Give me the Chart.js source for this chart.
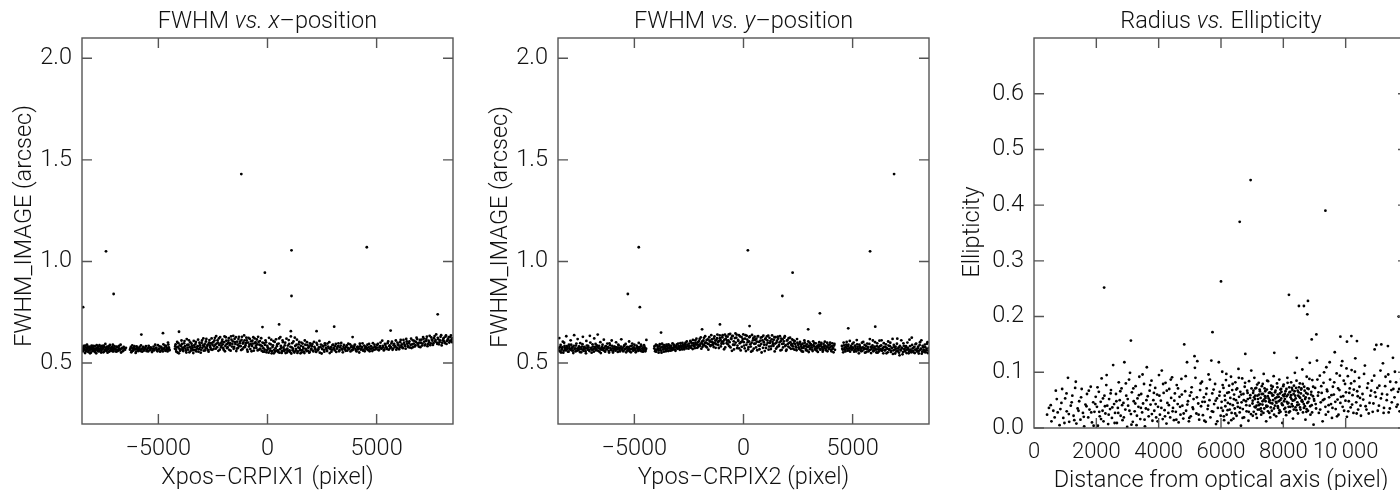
<!DOCTYPE html>
<html lang="en">
<head>
<meta charset="UTF-8">
<title>FWHM and ellipticity</title>
<style>
  html, body { margin: 0; padding: 0; background: #fff; overflow: hidden; width: 1400px; height: 490px; }
  canvas { position: absolute; top: 0; }
</style>
</head>
<body>
<canvas id="c1" width="470" height="490" style="left:0px"></canvas>
<canvas id="c2" width="470" height="490" style="left:470px"></canvas>
<canvas id="c3" width="480" height="490" style="left:940px"></canvas>
<script src="https://cdn.jsdelivr.net/npm/chart.js"></script>
<script>
// FWHM vs x-position: [x, fwhm]
const xposBand = [
  [-8480,0.571],[-8450,0.558],[-8420,0.584],[-8390,0.566],[-8360,0.549],[-8330,0.577],[-8300,0.562],[-8270,0.590],[-8240,0.570],[-8210,0.555],
  [-8180,0.581],[-8150,0.564],[-8120,0.573],[-8090,0.552],[-8060,0.586],[-8030,0.568],[-8000,0.576],[-7970,0.559],[-7940,0.571],[-7910,0.583],
  [-7880,0.563],[-7850,0.548],[-7820,0.574],[-7790,0.566],[-7760,0.579],[-7730,0.557],[-7700,0.588],[-7670,0.569],[-7640,0.575],[-7610,0.561],
  [-7580,0.584],[-7550,0.570],[-7520,0.553],[-7490,0.578],[-7460,0.565],[-7430,0.594],[-7400,0.572],[-7370,0.560],[-7340,0.581],[-7310,0.567],
  [-7280,0.575],[-7250,0.556],[-7220,0.589],[-7190,0.570],[-7160,0.563],[-7130,0.579],[-7100,0.558],[-7070,0.573],[-7040,0.566],[-7010,0.583],
  [-6970,0.571],[-6930,0.556],[-6890,0.578],[-6850,0.563],[-6800,0.585],[-6760,0.569],[-6710,0.552],[-6660,0.575],[-6610,0.561],[-6560,0.570],
  [-6300,0.566],[-6260,0.579],[-6220,0.558],[-6180,0.572],[-6140,0.564],[-6100,0.583],[-6060,0.568],[-6020,0.556],[-5980,0.575],[-5940,0.562],
  [-5900,0.571],[-5860,0.580],[-5820,0.559],[-5770,0.568],[-5720,0.574],[-5670,0.561],[-5620,0.570],[-5570,0.583],[-5520,0.565],[-5470,0.557],
  [-5420,0.576],[-5370,0.567],[-5320,0.572],[-5270,0.560],[-5220,0.581],[-5170,0.569],[-5120,0.574],[-5070,0.563],[-5020,0.588],[-4970,0.571],
  [-4920,0.556],[-4870,0.579],[-4820,0.566],[-4770,0.592],[-4720,0.574],[-4680,0.560],[-4640,0.584],[-4600,0.569],[-4560,0.601],[-4520,0.577],[-4490,0.563],
  [-4240,0.571],[-4210,0.592],[-4180,0.556],[-4140,0.604],[-4100,0.579],[-4060,0.548],[-4020,0.587],[-3980,0.566],[-3940,0.611],[-3900,0.574],
  [-3860,0.559],[-3820,0.597],[-3780,0.583],[-3740,0.562],[-3700,0.618],[-3660,0.576],[-3620,0.590],[-3580,0.553],[-3540,0.602],[-3500,0.571],
  [-3460,0.585],[-3420,0.563],[-3380,0.609],[-3340,0.578],[-3300,0.594],[-3260,0.557],[-3220,0.580],[-3180,0.615],[-3140,0.569],[-3100,0.588],
  [-3060,0.551],[-3020,0.599],[-2980,0.575],[-2940,0.621],[-2900,0.583],[-2860,0.562],[-2820,0.606],[-2780,0.572],[-2740,0.591],[-2700,0.556],
  [-2660,0.613],[-2620,0.578],[-2580,0.598],[-2540,0.565],
  [-2490,0.603],[-2450,0.582],[-2410,0.624],[-2370,0.571],[-2330,0.596],[-2290,0.612],[-2250,0.560],[-2210,0.589],[-2170,0.628],[-2130,0.577],
  [-2090,0.605],[-2050,0.592],[-2010,0.566],[-1970,0.631],[-1930,0.584],[-1890,0.610],[-1850,0.573],[-1810,0.598],[-1770,0.622],[-1730,0.588],
  [-1690,0.561],[-1650,0.615],[-1610,0.594],[-1570,0.634],[-1530,0.579],[-1490,0.603],[-1450,0.627],[-1410,0.571],[-1370,0.590],[-1330,0.618],
  [-1290,0.583],[-1250,0.606],[-1210,0.564],[-1170,0.629],[-1130,0.596],[-1090,0.577],[-1050,0.612],[-1010,0.588],[-970,0.625],[-930,0.566],
  [-890,0.601],[-850,0.581],[-810,0.619],[-770,0.593],[-730,0.558],[-690,0.610],[-650,0.627],[-610,0.575],[-570,0.597],[-530,0.585],
  [-490,0.616],[-450,0.562],[-410,0.604],[-370,0.590],[-330,0.571],[-290,0.622],[-250,0.583],[-210,0.556],
  [-170,0.598],[-130,0.566],[-90,0.612],[-50,0.553],[-10,0.585],[30,0.571],[70,0.624],[110,0.560],[150,0.592],[190,0.548],
  [230,0.579],[270,0.608],[310,0.565],[350,0.556],[390,0.617],[430,0.583],[470,0.562],[510,0.596],[550,0.551],[590,0.628],
  [630,0.574],[670,0.558],[710,0.603],[750,0.567],[790,0.587],[830,0.549],[870,0.620],[910,0.571],[950,0.560],[990,0.594],
  [1030,0.555],[1070,0.631],[1110,0.577],[1150,0.563],[1190,0.606],[1230,0.552],[1270,0.584],[1310,0.569],[1350,0.615],[1390,0.557],
  [1430,0.592],[1470,0.573],[1510,0.548],[1550,0.601],[1590,0.564],[1630,0.580],[1670,0.556],[1710,0.611],[1750,0.570],[1790,0.559],
  [1830,0.588],[1870,0.575],[1910,0.551],[1950,0.597],[1990,0.566],
  [2030,0.583],[2080,0.561],[2130,0.604],[2180,0.572],[2230,0.555],[2280,0.590],[2330,0.568],[2380,0.609],[2430,0.578],[2480,0.547],
  [2530,0.586],[2580,0.565],[2630,0.597],[2680,0.574],[2730,0.559],[2780,0.581],[2830,0.603],[2880,0.569],[2930,0.556],[2980,0.588],
  [3030,0.575],[3080,0.562],[3130,0.594],[3180,0.571],[3230,0.583],[3280,0.558],[3330,0.577],[3380,0.599],[3430,0.566],[3480,0.580],
  [3530,0.572],[3580,0.560],[3630,0.587],[3680,0.574],[3730,0.568],[3780,0.592],[3830,0.579],[3880,0.563],[3930,0.576],[3980,0.584],
  [4030,0.569],[4080,0.557],[4130,0.581],[4180,0.573],[4230,0.595],[4280,0.566],[4330,0.578],[4380,0.561],[4430,0.586],[4480,0.574],
  [4530,0.569],[4580,0.590],[4630,0.577],[4680,0.558],[4730,0.583],[4780,0.571],[4830,0.598],[4880,0.565],[4930,0.580],[4980,0.574],
  [5030,0.589],[5080,0.566],[5130,0.577],[5180,0.601],[5230,0.571],[5280,0.585],[5330,0.562],[5380,0.594],[5430,0.578],[5480,0.569],
  [5530,0.606],[5580,0.583],[5630,0.573],[5680,0.597],[5730,0.565],[5780,0.588],[5830,0.579],[5880,0.611],[5930,0.574],[5980,0.592],
  [6030,0.568],[6080,0.603],[6130,0.585],[6180,0.577],[6230,0.614],[6280,0.590],[6330,0.571],[6380,0.606],[6430,0.583],[6480,0.598],
  [6530,0.576],[6580,0.620],[6630,0.592],[6680,0.579],[6730,0.609],[6780,0.588],[6830,0.625],[6880,0.597],[6930,0.581],[6980,0.614],
  [7030,0.600],[7080,0.586],[7130,0.628],[7180,0.605],[7230,0.592],[7280,0.618],[7330,0.583],[7380,0.610],[7430,0.634],[7480,0.597],
  [7530,0.615],[7580,0.589],[7630,0.622],[7680,0.606],[7730,0.641],[7780,0.594],[7830,0.617],[7880,0.603],[7930,0.629],[7980,0.587],
  [8030,0.612],[8080,0.624],[8130,0.598],[8180,0.636],[8230,0.609],[8280,0.619],[8330,0.601],[8380,0.628],[8430,0.614],[8480,0.622]
];
const xposBand2 = [
  [-8467,0.562],[-8431,0.579],[-8398,0.570],[-8352,0.586],[-8318,0.557],[-8287,0.568],[-8243,0.580],[-8199,0.561],[-8163,0.575],[-8131,0.548],
  [-8102,0.567],[-8071,0.579],[-8017,0.560],[-7984,0.584],[-7951,0.566],[-7903,0.555],[-7869,0.571],[-7827,0.588],[-7781,0.559],[-7748,0.570],
  [-7712,0.563],[-7659,0.581],[-7623,0.552],[-7591,0.567],[-7537,0.575],[-7503,0.586],[-7471,0.558],[-7418,0.566],[-7382,0.578],[-7329,0.551],
  [-7296,0.569],[-7262,0.583],[-7207,0.561],[-7173,0.574],[-7118,0.568],[-7087,0.590],[-7053,0.557],[-7022,0.572],
  [-6954,0.566],[-6911,0.581],[-6868,0.559],[-6822,0.574],[-6779,0.563],[-6731,0.590],[-6689,0.571],[-6637,0.558],[-6589,0.579],[-6527,0.566],
  [-6488,0.575],[-6281,0.572],[-6241,0.553],[-6197,0.587],[-6163,0.561],[-6119,0.576],[-6078,0.570],[-6041,0.550],[-5997,0.582],[-5959,0.568],
  [-5917,0.559],[-5878,0.573],[-5838,0.565],[-5797,0.587],[-5741,0.556],[-5693,0.579],[-5648,0.566],[-5597,0.575],[-5548,0.559],[-5491,0.572],
  [-5446,0.585],[-5393,0.563],[-5348,0.577],[-5292,0.554],[-5243,0.570],[-5197,0.562],[-5146,0.590],[-5091,0.575],[-5043,0.558],[-4993,0.567],
  [-4944,0.582],[-4896,0.561],[-4848,0.573],[-4797,0.557],[-4746,0.570],[-4703,0.586],[-4659,0.563],[-4618,0.575],[-4579,0.557],[-4541,0.591],[-4507,0.568],
  [-4227,0.583],[-4193,0.566],[-4158,0.577],[-4121,0.552],[-4083,0.598],[-4041,0.571],[-4003,0.560],[-3961,0.584],[-3921,0.594],[-3879,0.565],
  [-3841,0.576],[-3803,0.608],[-3761,0.571],[-3719,0.552],[-3681,0.589],[-3641,0.566],[-3601,0.612],[-3561,0.579],[-3519,0.560],[-3481,0.595],
  [-3441,0.574],[-3401,0.549],[-3361,0.587],[-3319,0.563],[-3281,0.604],[-3239,0.570],[-3201,0.583],[-3161,0.556],[-3119,0.600],[-3079,0.577],
  [-3041,0.565],[-2999,0.611],[-2959,0.587],[-2921,0.561],[-2879,0.594],[-2839,0.574],[-2801,0.619],[-2759,0.584],[-2719,0.563],[-2679,0.600],
  [-2641,0.587],[-2601,0.568],[-2561,0.621],[-2521,0.590],
  [-2473,0.569],[-2431,0.611],[-2389,0.590],[-2351,0.633],[-2309,0.578],[-2271,0.600],[-2229,0.621],[-2189,0.566],[-2151,0.597],[-2109,0.585],
  [-2071,0.615],[-2029,0.574],[-1989,0.603],[-1951,0.558],[-1909,0.627],[-1871,0.593],[-1829,0.578],[-1789,0.610],[-1751,0.565],[-1709,0.598],
  [-1671,0.631],[-1629,0.581],[-1589,0.607],[-1551,0.570],[-1509,0.619],[-1471,0.594],[-1429,0.559],[-1389,0.605],[-1351,0.574],[-1309,0.629],
  [-1271,0.597],[-1229,0.583],[-1189,0.614],[-1151,0.568],[-1109,0.602],[-1071,0.636],[-1029,0.579],[-989,0.598],[-951,0.611],[-909,0.556],
  [-871,0.624],[-829,0.590],[-789,0.569],[-751,0.607],[-709,0.584],[-669,0.596],[-629,0.561],[-589,0.621],[-549,0.603],[-509,0.574],
  [-469,0.592],[-429,0.629],[-389,0.566],[-349,0.608],[-309,0.587],[-269,0.561],[-229,0.601],
  [-187,0.573],[-149,0.556],[-111,0.589],[-69,0.602],[-31,0.562],[9,0.577],[51,0.551],[91,0.596],[131,0.571],[171,0.615],
  [211,0.558],[251,0.587],[291,0.548],[331,0.604],[371,0.573],[411,0.561],[451,0.593],[491,0.554],[531,0.621],[571,0.568],
  [611,0.584],[651,0.550],[691,0.611],[731,0.577],[771,0.559],[811,0.600],[851,0.566],[891,0.552],[931,0.586],[971,0.613],
  [1011,0.562],[1051,0.580],[1091,0.547],[1131,0.598],[1171,0.571],[1211,0.556],[1251,0.625],[1291,0.561],[1331,0.590],[1371,0.550],
  [1411,0.577],[1451,0.604],[1491,0.563],[1531,0.585],[1571,0.553],[1611,0.596],[1651,0.572],[1691,0.549],[1731,0.590],[1771,0.566],
  [1811,0.603],[1851,0.560],[1891,0.579],[1931,0.555],[1971,0.588],
  [2011,0.571],[2057,0.594],[2103,0.557],[2149,0.580],[2201,0.566],[2247,0.599],[2303,0.562],[2351,0.577],[2397,0.551],[2449,0.591],
  [2503,0.569],[2551,0.581],[2603,0.556],[2651,0.588],[2703,0.566],[2751,0.596],[2803,0.573],[2851,0.549],[2903,0.578],[2953,0.566],
  [3003,0.591],[3051,0.570],[3103,0.583],[3151,0.555],[3203,0.575],[3251,0.597],[3303,0.564],[3351,0.586],[3403,0.570],[3451,0.553],
  [3503,0.589],[3553,0.567],[3603,0.579],[3653,0.561],[3703,0.595],[3751,0.571],[3803,0.557],[3853,0.584],[3903,0.566],[3953,0.575],
  [4003,0.591],[4053,0.562],[4103,0.577],[4153,0.568],[4203,0.552],[4253,0.583],[4303,0.571],[4353,0.597],[4403,0.566],[4453,0.558],
  [4503,0.581],[4553,0.573],[4603,0.564],[4653,0.594],[4703,0.570],[4753,0.582],[4803,0.559],[4853,0.576],[4903,0.590],[4953,0.567],
  [5011,0.576],[5057,0.594],[5103,0.563],[5157,0.583],[5203,0.572],[5257,0.610],[5303,0.578],[5357,0.567],[5403,0.589],[5457,0.575],
  [5503,0.598],[5557,0.566],[5603,0.587],[5657,0.578],[5703,0.605],[5757,0.571],[5803,0.594],[5857,0.583],[5903,0.566],[5957,0.601],
  [6003,0.587],[6057,0.577],[6103,0.614],[6157,0.592],[6203,0.573],[6257,0.600],[6303,0.584],[6357,0.619],[6403,0.595],[6457,0.578],
  [6503,0.606],[6557,0.589],[6603,0.574],[6657,0.612],[6703,0.596],[6757,0.582],[6803,0.604],[6857,0.618],[6903,0.590],[6957,0.601],
  [7003,0.578],[7057,0.615],[7103,0.596],[7157,0.620],[7203,0.587],[7257,0.608],[7303,0.630],[7357,0.594],[7403,0.604],[7457,0.588],
  [7503,0.626],[7557,0.610],[7603,0.598],[7657,0.633],[7703,0.613],[7757,0.601],[7803,0.624],[7857,0.592],[7903,0.611],[7957,0.637],
  [8003,0.600],[8057,0.619],[8103,0.606],[8157,0.630],[8203,0.594],[8257,0.615],[8303,0.628],[8357,0.609],[8403,0.636],[8457,0.603],[8493,0.618]
];
const xposOutliers = [
  [-1200,1.43],[-7400,1.05],[-7050,0.84],[-8450,0.775],[-120,0.945],[1100,1.055],[1100,0.83],[4550,1.07],[7800,0.74],
  [-5780,0.64],[-4790,0.647],[-4055,0.654],[-230,0.677],[532,0.69],[1070,0.657],[2248,0.657],[3055,0.679],[3900,0.628],[5642,0.66]
];

// FWHM vs y-position: [y, fwhm]
const yposBand = [
  [-8480,0.566],[-8440,0.623],[-8400,0.579],[-8360,0.552],[-8320,0.571],[-8280,0.605],[-8240,0.561],[-8200,0.584],[-8160,0.568],[-8120,0.632],
  [-8080,0.575],[-8040,0.556],[-8000,0.590],[-7960,0.570],[-7920,0.612],[-7880,0.563],[-7840,0.578],[-7800,0.549],[-7760,0.637],[-7720,0.572],
  [-7680,0.586],[-7640,0.560],[-7600,0.618],[-7560,0.575],[-7520,0.567],[-7480,0.598],[-7440,0.553],[-7400,0.581],[-7360,0.629],[-7320,0.569],
  [-7280,0.577],[-7240,0.558],[-7200,0.609],[-7160,0.573],[-7120,0.585],[-7080,0.564],[-7040,0.634],[-7000,0.571],[-6960,0.551],[-6920,0.592],
  [-6880,0.568],[-6840,0.621],[-6800,0.579],[-6760,0.562],[-6720,0.587],[-6680,0.640],[-6640,0.574],[-6600,0.556],[-6560,0.603],[-6520,0.566],
  [-6480,0.580],[-6440,0.571],[-6400,0.615],[-6360,0.559],[-6320,0.583],[-6280,0.568],[-6240,0.596],[-6200,0.575],[-6160,0.552],[-6120,0.588],
  [-6080,0.566],[-6040,0.611],[-6000,0.572],[-5960,0.560],[-5920,0.581],[-5880,0.569],[-5840,0.602],[-5800,0.576],[-5760,0.555],[-5720,0.586],
  [-5680,0.564],[-5640,0.573],[-5600,0.617],[-5560,0.570],[-5520,0.558],[-5480,0.582],[-5440,0.567],[-5400,0.594],[-5360,0.574],[-5320,0.561],
  [-5280,0.578],[-5240,0.606],[-5200,0.569],[-5160,0.553],[-5120,0.585],[-5080,0.572],[-5040,0.563],[-5000,0.590],[-4960,0.571],[-4920,0.557],
  [-4880,0.580],[-4840,0.568],[-4800,0.599],[-4760,0.575],[-4720,0.560],[-4680,0.583],[-4640,0.570],[-4600,0.556],[-4560,0.588],[-4520,0.573],
  [-4480,0.565],[-4450,0.614],
  [-4090,0.572],[-4050,0.558],[-4010,0.590],[-3970,0.566],[-3930,0.579],[-3890,0.551],[-3850,0.584],[-3810,0.570],[-3770,0.561],[-3730,0.595],
  [-3690,0.576],[-3650,0.556],[-3610,0.582],[-3570,0.568],[-3530,0.590],[-3490,0.573],[-3450,0.559],[-3410,0.586],[-3370,0.571],[-3330,0.580],
  [-3290,0.563],[-3250,0.597],[-3210,0.575],[-3170,0.584],[-3130,0.566],[-3090,0.578],[-3050,0.592],[-3010,0.570],[-2970,0.583],[-2930,0.574],
  [-2890,0.598],[-2850,0.580],[-2810,0.567],[-2770,0.589],[-2730,0.577],[-2690,0.585],[-2650,0.601],[-2610,0.572],[-2570,0.590],[-2530,0.581],
  [-2490,0.596],[-2450,0.578],[-2410,0.604],[-2370,0.586],[-2330,0.569],[-2290,0.598],[-2250,0.583],[-2210,0.612],[-2170,0.591],[-2130,0.575],
  [-2090,0.603],[-2050,0.588],[-2010,0.619],[-1970,0.595],[-1930,0.571],[-1890,0.607],[-1850,0.590],[-1810,0.624],[-1770,0.600],[-1730,0.582],
  [-1690,0.613],[-1650,0.596],[-1610,0.566],[-1570,0.627],[-1530,0.605],[-1490,0.588],[-1450,0.617],[-1410,0.600],[-1370,0.579],[-1330,0.631],
  [-1290,0.610],[-1250,0.592],[-1210,0.622],[-1170,0.603],[-1130,0.574],[-1090,0.636],[-1050,0.614],[-1010,0.595],[-970,0.627],[-930,0.606],
  [-890,0.568],[-850,0.640],[-810,0.619],[-770,0.598],[-730,0.630],[-690,0.611],[-650,0.583],[-610,0.643],[-570,0.621],[-530,0.560],
  [-490,0.634],[-450,0.607],[-410,0.590],[-370,0.646],[-330,0.625],[-290,0.573],[-250,0.614],[-210,0.637],[-170,0.597],[-130,0.562],
  [-90,0.628],[-50,0.608],
  [-10,0.641],[30,0.586],[70,0.620],[110,0.559],[150,0.634],[190,0.603],[230,0.578],[270,0.627],[310,0.592],[350,0.556],
  [390,0.638],[430,0.612],[470,0.571],[510,0.630],[550,0.596],[590,0.620],[630,0.563],[670,0.633],[710,0.604],[750,0.585],
  [790,0.625],[830,0.552],[870,0.612],[910,0.635],[950,0.590],[990,0.617],[1030,0.574],[1070,0.631],[1110,0.600],[1150,0.566],
  [1190,0.624],[1230,0.608],[1270,0.582],[1310,0.636],[1350,0.593],[1390,0.615],[1430,0.557],[1470,0.627],[1510,0.601],[1550,0.579],
  [1590,0.620],[1630,0.589],[1670,0.632],[1710,0.608],[1750,0.565],[1790,0.617],[1830,0.596],[1870,0.625],[1910,0.584],[1950,0.560],
  [1990,0.611],[2030,0.594],[2070,0.622],[2110,0.576],[2150,0.603],[2190,0.589],[2230,0.616],[2270,0.571],[2310,0.597],[2350,0.608],
  [2390,0.582],[2430,0.563],[2470,0.600],
  [2510,0.589],[2550,0.570],[2590,0.604],[2630,0.581],[2670,0.558],[2710,0.595],[2750,0.575],[2790,0.611],[2830,0.586],[2870,0.563],
  [2910,0.592],[2950,0.579],[2990,0.554],[3030,0.600],[3070,0.576],[3110,0.588],[3150,0.566],[3190,0.607],[3230,0.582],[3270,0.571],
  [3310,0.597],[3350,0.561],[3390,0.585],[3430,0.577],[3470,0.603],[3510,0.568],[3550,0.590],[3590,0.579],[3630,0.556],[3670,0.594],
  [3710,0.573],[3750,0.586],[3790,0.562],[3830,0.600],[3870,0.577],[3910,0.569],[3950,0.591],[3990,0.580],[4030,0.558],[4070,0.597],
  [4110,0.574],[4150,0.586],[4190,0.565],
  [4510,0.584],[4550,0.566],[4590,0.601],[4630,0.575],[4670,0.557],[4710,0.590],[4750,0.571],[4790,0.582],[4830,0.562],[4870,0.609],
  [4910,0.577],[4950,0.568],[4990,0.594],[5030,0.573],[5070,0.556],[5110,0.586],[5150,0.570],[5190,0.613],[5230,0.579],[5270,0.563],
  [5310,0.591],[5350,0.574],[5390,0.558],[5430,0.600],[5470,0.577],[5510,0.567],[5550,0.589],[5590,0.571],[5630,0.554],[5670,0.596],
  [5710,0.575],[5750,0.562],[5790,0.618],[5830,0.580],[5870,0.569],[5910,0.587],[5950,0.558],[5990,0.574],[6030,0.603],[6070,0.566],
  [6110,0.583],[6150,0.551],[6190,0.577],[6230,0.610],[6270,0.568],[6310,0.587],[6350,0.560],[6390,0.574],[6430,0.598],[6470,0.563],
  [6510,0.579],[6550,0.548],[6590,0.571],[6630,0.606],[6670,0.566],[6710,0.583],[6750,0.555],[6790,0.574],[6830,0.619],[6870,0.562],
  [6910,0.579],[6950,0.547],[6990,0.571],[7030,0.595],[7070,0.559],[7110,0.577],[7150,0.538],[7190,0.566],[7230,0.612],[7270,0.572],
  [7310,0.554],[7350,0.585],[7390,0.562],[7430,0.576],[7470,0.549],[7510,0.601],[7550,0.568],[7590,0.557],[7630,0.583],[7670,0.561],
  [7710,0.625],[7750,0.572],[7790,0.553],[7830,0.580],[7870,0.565],[7910,0.596],[7950,0.558],[7990,0.574],[8030,0.547],[8070,0.589],
  [8110,0.566],[8150,0.612],[8190,0.556],[8230,0.578],[8270,0.562],[8310,0.591],[8350,0.553],[8390,0.570],[8430,0.603],[8470,0.561]
];
const yposBand2 = [
  [-8467,0.574],[-8421,0.558],[-8379,0.589],[-8337,0.566],[-8297,0.578],[-8257,0.551],[-8219,0.600],[-8177,0.573],[-8137,0.562],[-8097,0.583],
  [-8057,0.570],[-8019,0.556],[-7979,0.579],[-7939,0.566],[-7897,0.590],[-7857,0.574],[-7817,0.561],[-7779,0.585],[-7739,0.569],[-7697,0.557],
  [-7657,0.596],[-7619,0.571],[-7579,0.563],[-7539,0.582],[-7497,0.554],[-7459,0.576],[-7419,0.568],[-7379,0.593],[-7339,0.560],[-7299,0.579],
  [-7259,0.571],[-7219,0.548],[-7179,0.586],[-7139,0.566],[-7099,0.577],[-7059,0.559],[-7019,0.601],[-6979,0.575],[-6939,0.565],[-6899,0.581],
  [-6859,0.556],[-6819,0.572],[-6779,0.594],[-6739,0.568],[-6699,0.579],[-6659,0.560],[-6619,0.585],[-6579,0.571],[-6539,0.549],[-6499,0.576],
  [-6459,0.590],[-6419,0.563],[-6379,0.574],[-6339,0.556],[-6299,0.582],[-6259,0.569],[-6219,0.578],[-6179,0.560],[-6139,0.597],[-6099,0.574],
  [-6059,0.563],[-6019,0.585],[-5979,0.552],[-5939,0.571],[-5899,0.580],[-5859,0.561],[-5819,0.577],[-5779,0.568],[-5739,0.591],[-5699,0.573],
  [-5659,0.557],[-5619,0.581],[-5579,0.566],[-5539,0.575],[-5499,0.560],[-5459,0.588],[-5419,0.570],[-5379,0.553],[-5339,0.579],[-5299,0.566],
  [-5259,0.574],[-5219,0.558],[-5179,0.583],[-5139,0.569],[-5099,0.596],[-5059,0.561],[-5019,0.577],[-4979,0.565],[-4939,0.553],[-4899,0.586],
  [-4859,0.572],[-4819,0.560],[-4779,0.578],[-4739,0.566],[-4699,0.590],[-4659,0.557],[-4619,0.574],[-4579,0.565],[-4539,0.580],[-4499,0.558],[-4463,0.571],
  [-4077,0.583],[-4037,0.565],[-3997,0.556],[-3957,0.587],[-3917,0.570],[-3877,0.562],[-3837,0.593],[-3797,0.576],[-3757,0.551],[-3717,0.581],
  [-3677,0.567],[-3637,0.588],[-3597,0.574],[-3557,0.558],[-3517,0.583],[-3477,0.569],[-3437,0.592],[-3397,0.577],[-3357,0.561],[-3317,0.586],
  [-3277,0.574],[-3237,0.566],[-3197,0.590],[-3157,0.577],[-3117,0.560],[-3077,0.585],[-3037,0.572],[-2997,0.596],[-2957,0.580],[-2917,0.565],
  [-2877,0.587],[-2837,0.575],[-2797,0.599],[-2757,0.583],[-2717,0.568],[-2677,0.594],[-2637,0.579],[-2597,0.606],[-2557,0.586],[-2517,0.571],
  [-2477,0.585],[-2437,0.609],[-2397,0.575],[-2357,0.597],[-2317,0.614],[-2277,0.588],[-2237,0.573],[-2197,0.600],[-2157,0.620],[-2117,0.592],
  [-2077,0.579],[-2037,0.608],[-1997,0.585],[-1957,0.626],[-1917,0.598],[-1877,0.580],[-1837,0.611],[-1797,0.588],[-1757,0.632],[-1717,0.601],
  [-1677,0.577],[-1637,0.617],[-1597,0.593],[-1557,0.610],[-1517,0.584],[-1477,0.637],[-1437,0.604],[-1397,0.590],[-1357,0.621],[-1317,0.598],
  [-1277,0.575],[-1237,0.613],[-1197,0.640],[-1157,0.589],[-1117,0.609],[-1077,0.622],[-1037,0.582],[-997,0.604],[-957,0.637],[-917,0.596],
  [-877,0.615],[-837,0.577],[-797,0.631],[-757,0.610],[-717,0.592],[-677,0.641],[-637,0.603],[-597,0.577],[-557,0.618],[-517,0.632],
  [-477,0.590],[-437,0.567],[-397,0.623],[-357,0.601],[-317,0.640],[-277,0.586],[-237,0.609],[-197,0.572],[-157,0.631],[-117,0.603],
  [-77,0.580],[-37,0.619],
  [13,0.603],[53,0.572],[93,0.637],[133,0.590],[173,0.615],[213,0.567],[253,0.606],[293,0.631],[333,0.581],[373,0.600],
  [413,0.561],[453,0.622],[493,0.595],[533,0.613],[573,0.577],[613,0.605],[653,0.631],[693,0.586],[733,0.568],[773,0.610],
  [813,0.594],[853,0.628],[893,0.575],[933,0.603],[973,0.559],[1013,0.621],[1053,0.590],[1093,0.612],[1133,0.635],[1173,0.581],
  [1213,0.599],[1253,0.569],[1293,0.617],[1333,0.604],[1373,0.585],[1413,0.628],[1453,0.596],[1493,0.571],[1533,0.610],[1573,0.630],
  [1613,0.583],[1653,0.602],[1693,0.562],[1733,0.620],[1773,0.594],[1813,0.577],[1853,0.607],[1893,0.632],[1933,0.588],[1973,0.566],
  [2013,0.613],[2053,0.581],[2093,0.599],[2133,0.625],[2173,0.570],[2213,0.593],[2253,0.583],[2293,0.611],[2333,0.566],[2373,0.594],
  [2413,0.576],[2453,0.618],
  [2527,0.577],[2567,0.596],[2607,0.566],[2647,0.590],[2687,0.574],[2727,0.556],[2767,0.583],[2807,0.600],[2847,0.570],[2887,0.581],
  [2927,0.561],[2967,0.606],[3007,0.584],[3047,0.568],[3087,0.593],[3127,0.577],[3167,0.559],[3207,0.588],[3247,0.598],[3287,0.566],
  [3327,0.580],[3367,0.572],[3407,0.555],[3447,0.590],[3487,0.583],[3527,0.566],[3567,0.599],[3607,0.575],[3647,0.563],[3687,0.582],
  [3727,0.605],[3767,0.570],[3807,0.580],[3847,0.558],[3887,0.589],[3927,0.575],[3967,0.601],[4007,0.566],[4047,0.583],[4087,0.570],
  [4127,0.553],[4167,0.594],
  [4527,0.571],[4567,0.553],[4607,0.587],[4647,0.566],[4687,0.578],[4727,0.604],[4767,0.561],[4807,0.590],[4847,0.572],[4887,0.556],
  [4927,0.584],[4967,0.566],[5007,0.577],[5047,0.601],[5087,0.563],[5127,0.580],[5167,0.557],[5207,0.592],[5247,0.570],[5287,0.548],
  [5327,0.583],[5367,0.566],[5407,0.575],[5447,0.560],[5487,0.604],[5527,0.573],[5567,0.551],[5607,0.585],[5647,0.568],[5687,0.580],
  [5727,0.557],[5767,0.594],[5807,0.565],[5847,0.549],[5887,0.577],[5927,0.611],[5967,0.562],[6007,0.581],[6047,0.571],[6087,0.552],
  [6127,0.597],[6167,0.567],[6207,0.557],[6247,0.583],[6287,0.564],[6327,0.612],[6367,0.570],[6407,0.548],[6447,0.580],[6487,0.563],
  [6527,0.592],[6567,0.572],[6607,0.553],[6647,0.586],[6687,0.567],[6727,0.600],[6767,0.560],[6807,0.575],[6847,0.545],[6887,0.589],
  [6927,0.566],[6967,0.581],[7007,0.557],[7047,0.620],[7087,0.571],[7127,0.551],[7167,0.585],[7207,0.562],[7247,0.576],[7287,0.543],
  [7327,0.597],[7367,0.569],[7407,0.557],[7447,0.583],[7487,0.566],[7527,0.575],[7567,0.548],[7607,0.615],[7647,0.566],[7687,0.553],
  [7727,0.589],[7767,0.560],[7807,0.577],[7847,0.549],[7887,0.593],[7927,0.568],[7967,0.557],[8007,0.581],[8047,0.561],[8087,0.603],
  [8127,0.571],[8167,0.546],[8207,0.585],[8247,0.566],[8287,0.554],[8327,0.578],[8367,0.562],[8407,0.595],[8447,0.549],[8487,0.574]
];
const yposOutliers = [
  [6900,1.43],[-4800,1.07],[-5300,0.84],[-4750,0.775],[200,1.055],[2250,0.945],[1780,0.83],[3500,0.745],[5800,1.05],
  [6037,0.679],[4800,0.671],[2963,0.666],[278,0.682],[-1079,0.69],[-1898,0.666],[-3778,0.65]
];

// Ellipticity vs radius: [distance, ellipticity]
const radiusPoints = [
  [420,0.024],[480,0.036],[560,0.012],[620,0.031],[700,0.067],[760,0.028],[820,0.005],[880,0.045],[940,0.018],[1000,0.053],
  [1050,0.030],[1090,0.090],[1130,0.011],[1180,0.040],[1230,0.058],[1270,0.022],[1320,0.072],[1360,0.008],[1400,0.035],[1450,0.048],
  [1490,0.015],[1530,0.070],[1570,0.027],[1610,0.003],[1650,0.042],[1700,0.061],[1740,0.019],[1780,0.033],[1820,0.074],[1860,0.010],
  [1900,0.046],[1940,0.029],[1980,0.056],
  [2020,0.038],[2050,0.004],[2080,0.065],[2110,0.021],[2140,0.047],[2170,0.089],[2200,0.031],[2230,0.012],[2260,0.058],[2290,0.026],
  [2320,0.077],[2350,0.040],[2380,0.007],[2410,0.052],[2440,0.034],[2470,0.068],[2500,0.018],[2540,0.113],[2570,0.043],[2600,0.027],
  [2630,0.061],[2660,0.009],[2690,0.036],[2720,0.082],[2750,0.050],[2780,0.022],[2810,0.071],[2840,0.014],[2870,0.045],[2900,0.118],
  [2930,0.033],[2960,0.058],[2990,0.002],[3020,0.040],[3050,0.087],[3080,0.099],[3110,0.025],[3140,0.064],[3170,0.011],[3200,0.048],
  [3230,0.030],[3260,0.075],[3290,0.005],[3320,0.053],[3350,0.038],[3380,0.092],[3410,0.016],[3440,0.061],[3470,0.028],[3500,0.044],
  [3530,0.079],[3560,0.003],[3590,0.035],[3620,0.109],[3650,0.057],[3680,0.021],[3710,0.067],[3740,0.042],[3770,0.085],[3800,0.013],
  [3830,0.050],[3860,0.031],[3890,0.072],[3920,0.019],[3950,0.060],[3980,0.038],
  [4010,0.095],[4040,0.024],[4070,0.049],[4100,0.103],[4130,0.016],[4160,0.063],[4190,0.032],[4220,0.081],[4250,0.008],[4280,0.045],
  [4310,0.027],[4340,0.070],[4370,0.019],[4400,0.054],[4430,0.091],[4460,0.036],[4490,0.014],[4520,0.062],[4550,0.029],[4580,0.077],
  [4610,0.043],[4640,0.010],[4670,0.056],[4700,0.024],[4730,0.088],[4760,0.040],[4790,0.017],[4820,0.150],[4850,0.066],[4880,0.031],
  [4910,0.118],[4940,0.048],[4970,0.012],[5000,0.058],[5030,0.021],[5060,0.073],[5090,0.037],[5120,0.052],[5150,0.129],[5180,0.090],
  [5210,0.026],[5240,0.120],[5270,0.044],[5300,0.015],[5330,0.068],[5360,0.039],[5390,0.083],[5420,0.023],[5450,0.055],[5480,0.047],
  [5510,0.011],[5540,0.071],[5570,0.034],[5600,0.096],[5630,0.050],[5660,0.019],[5690,0.121],[5720,0.062],[5750,0.029],[5780,0.043],
  [5810,0.079],[5840,0.007],[5870,0.053],[5900,0.036],[5930,0.118],[5960,0.065],[5990,0.022],
  [6020,0.047],[6040,0.101],[6060,0.031],[6080,0.072],[6100,0.014],[6120,0.058],[6140,0.039],[6160,0.086],[6180,0.024],[6200,0.063],
  [6220,0.045],[6240,0.009],[6260,0.076],[6280,0.033],[6300,0.054],[6320,0.092],[6340,0.027],[6360,0.068],[6380,0.041],[6400,0.017],
  [6420,0.060],[6440,0.035],[6460,0.082],[6480,0.050],[6500,0.022],[6520,0.071],[6540,0.038],[6560,0.106],[6580,0.056],[6600,0.028],
  [6620,0.065],[6640,0.004],[6660,0.046],[6680,0.089],[6700,0.034],[6720,0.061],[6740,0.019],[6760,0.074],[6780,0.133],[6800,0.048],
  [6820,0.030],[6840,0.067],[6860,0.052],[6880,0.013],[6900,0.084],[6920,0.040],[6940,0.059],[6960,0.025],[6980,0.071],
  [7010,0.044],[7030,0.063],[7050,0.029],[7070,0.090],[7090,0.052],[7110,0.037],[7130,0.072],[7150,0.018],[7170,0.058],[7190,0.046],
  [7210,0.081],[7230,0.033],[7250,0.066],[7270,0.054],[7290,0.024],[7310,0.075],[7330,0.042],[7350,0.061],[7370,0.097],[7390,0.035],
  [7410,0.057],[7430,0.048],[7450,0.012],[7470,0.069],[7490,0.039],[7510,0.084],[7530,0.053],[7550,0.027],[7570,0.064],[7590,0.045],
  [7610,0.076],[7630,0.031],[7650,0.058],[7670,0.050],[7690,0.093],[7710,0.135],[7730,0.040],[7750,0.067],[7770,0.021],[7790,0.055],
  [7810,0.073],[7830,0.036],[7850,0.048],[7870,0.087],[7890,0.062],[7910,0.029],[7930,0.070],[7950,0.044],[7970,0.009],[7990,0.059],
  [8010,0.078],[8030,0.034],[8050,0.052],[8070,0.066],[8090,0.023],[8110,0.047],[8130,0.090],[8150,0.060],[8170,0.038],[8190,0.073],
  [8210,0.030],[8230,0.055],[8250,0.082],[8270,0.043],[8290,0.068],[8310,0.017],[8330,0.061],[8350,0.050],[8370,0.099],[8390,0.037],
  [8410,0.072],[8430,0.126],[8450,0.046],[8470,0.026],[8490,0.064],[8510,0.056],[8530,0.080],[8550,0.033],[8570,0.069],[8590,0.048],
  [8610,0.105],[8630,0.028],[8650,0.058],[8670,0.074],[8690,0.039],[8710,0.015],[8730,0.063],[8750,0.092],[8770,0.045],[8790,0.031],
  [8810,0.070],[8830,0.053],[8850,0.117],[8870,0.024],[8890,0.060],[8910,0.041],[8930,0.086],[8950,0.057],[8970,0.006],[8990,0.049],
  [7020,0.022],[7060,0.055],[7100,0.071],[7140,0.040],[7180,0.033],[7220,0.060],[7260,0.043],[7300,0.030],[7340,0.079],[7380,0.051],
  [7420,0.066],[7460,0.038],[7500,0.057],[7540,0.047],[7580,0.019],[7620,0.062],[7660,0.074],[7700,0.035],[7740,0.053],[7780,0.045],
  [7820,0.060],[7860,0.027],[7900,0.050],[7940,0.065],[7980,0.041],[8020,0.057],[8060,0.036],[8100,0.070],[8140,0.044],[8180,0.028],
  [8220,0.065],[8260,0.052],[8300,0.039],[8340,0.076],[8380,0.058],[8420,0.032],[8460,0.067],[8500,0.042],[8540,0.054],[8580,0.071],
  [8620,0.047],[8660,0.036],[8700,0.052],[8740,0.029],[8780,0.061],
  [9020,0.072],[9050,0.035],[9080,0.121],[9110,0.058],[9140,0.027],[9170,0.094],[9200,0.046],[9230,0.063],[9260,0.012],[9290,0.081],
  [9320,0.052],[9350,0.038],[9380,0.109],[9410,0.066],[9440,0.029],[9470,0.055],[9500,0.087],[9530,0.043],[9560,0.018],[9590,0.074],
  [9620,0.060],[9650,0.136],[9680,0.034],[9710,0.098],[9740,0.051],[9770,0.024],[9800,0.068],[9830,0.045],[9860,0.112],[9890,0.120],
  [9920,0.057],[9950,0.031],[9980,0.079],[10010,0.064],[10040,0.020],[10070,0.093],[10100,0.048],[10130,0.071],[10160,0.037],[10190,0.104],
  [10220,0.059],[10250,0.027],[10280,0.084],[10310,0.125],[10340,0.046],[10370,0.066],[10400,0.033],[10430,0.090],[10460,0.054],[10490,0.022],
  [10540,0.061],[10590,0.097],[10640,0.039],[10690,0.072],[10740,0.026],[10790,0.058],[10840,0.085],[10890,0.044],[10940,0.064],[10984,0.149],
  [11030,0.031],[11080,0.076],[11130,0.053],[11196,0.116],[11230,0.036],[11280,0.092],[11330,0.060],[11380,0.028],[11430,0.083],[11480,0.046],
  [11530,0.070],[11580,0.101],[11630,0.038],[11680,0.065],[11730,0.030],[11780,0.088],[11830,0.052],[11880,0.074],[11930,0.041]
];
const radiusPoints2 = [
  [537,0.041],[663,0.019],[731,0.052],[847,0.034],[903,0.070],[977,0.009],[1043,0.062],[1117,0.025],[1209,0.046],[1293,0.014],
  [1341,0.083],[1427,0.031],[1511,0.055],[1597,0.020],[1683,0.039],[1759,0.067],[1837,0.028],[1913,0.004],[1967,0.043],
  [2037,0.073],[2093,0.029],[2151,0.016],[2213,0.053],[2277,0.039],[2331,0.095],[2397,0.024],[2459,0.062],[2513,0.037],[2587,0.009],
  [2643,0.048],[2703,0.027],[2769,0.066],[2827,0.041],[2883,0.019],[2947,0.080],[3007,0.052],[3063,0.031],[3127,0.006],[3187,0.071],
  [3249,0.044],[3303,0.022],[3367,0.059],[3429,0.036],[3483,0.096],[3547,0.015],[3607,0.050],[3663,0.033],[3727,0.077],[3781,0.025],
  [3847,0.063],[3903,0.043],[3967,0.012],
  [4023,0.058],[4087,0.036],[4143,0.079],[4203,0.021],[4261,0.067],[4327,0.041],[4389,0.087],[4447,0.030],[4503,0.049],[4567,0.015],
  [4621,0.071],[4687,0.038],[4743,0.060],[4803,0.026],[4867,0.093],[4921,0.042],[4983,0.018],[5043,0.064],[5107,0.034],[5163,0.108],
  [5227,0.055],[5283,0.024],[5347,0.080],[5403,0.047],[5467,0.013],[5523,0.061],[5587,0.040],[5643,0.087],[5707,0.030],[5763,0.069],
  [5827,0.049],[5883,0.012],[5947,0.058],
  [6011,0.036],[6053,0.077],[6091,0.021],[6133,0.050],[6171,0.097],[6213,0.032],[6251,0.064],[6293,0.043],[6331,0.014],[6373,0.079],
  [6411,0.052],[6453,0.026],[6491,0.069],[6533,0.045],[6571,0.090],[6613,0.036],[6651,0.060],[6693,0.018],[6731,0.050],[6773,0.081],
  [6811,0.041],[6853,0.063],[6891,0.029],[6933,0.054],[6971,0.103],
  [7017,0.049],[7041,0.067],[7077,0.038],[7097,0.058],[7123,0.025],[7161,0.078],[7187,0.052],[7213,0.041],[7241,0.069],[7279,0.035],
  [7307,0.061],[7333,0.048],[7361,0.027],[7399,0.071],[7427,0.054],[7453,0.040],[7481,0.085],[7507,0.030],[7537,0.063],[7563,0.050],
  [7597,0.037],[7621,0.070],[7647,0.044],[7677,0.059],[7703,0.024],[7733,0.064],[7761,0.047],[7797,0.080],[7821,0.039],[7853,0.056],
  [7877,0.032],[7907,0.069],[7933,0.053],[7961,0.042],[7997,0.075],[8023,0.048],[8047,0.061],[8081,0.029],[8107,0.057],[8137,0.081],
  [8163,0.045],[8197,0.064],[8223,0.038],[8251,0.059],[8277,0.072],[8303,0.049],[8337,0.033],[8361,0.066],[8397,0.053],[8423,0.085],
  [8447,0.041],[8477,0.058],[8503,0.073],[8537,0.037],[8563,0.062],[8597,0.050],[8623,0.079],[8657,0.043],[8683,0.067],[8717,0.055],
  [8747,0.034],[8773,0.071],[8803,0.047],[8837,0.088],[8863,0.039],[8897,0.065],[8923,0.028],[8957,0.074],[8983,0.052],
  [9037,0.043],[9093,0.087],[9127,0.064],[9183,0.033],[9217,0.075],[9271,0.050],[9307,0.100],[9363,0.024],[9397,0.069],[9453,0.041],
  [9487,0.118],[9543,0.059],[9577,0.036],[9633,0.082],[9667,0.047],[9723,0.021],[9757,0.071],[9813,0.094],[9847,0.056],[9903,0.038],
  [9937,0.085],[9993,0.049],[10027,0.107],[10083,0.030],[10117,0.063],[10173,0.080],[10207,0.042],[10263,0.069],[10297,0.101],[10353,0.026],
  [10387,0.057],[10443,0.074],[10477,0.040],
  [10563,0.051],[10617,0.112],[10667,0.033],[10717,0.080],[10767,0.045],[10817,0.067],[10867,0.029],[10917,0.094],[10967,0.056],[11017,0.072],
  [11067,0.040],[11117,0.103],[11167,0.061],[11217,0.027],[11267,0.075],[11317,0.050],[11367,0.096],[11417,0.035],[11467,0.068],[11517,0.126],
  [11567,0.055],[11617,0.082],[11667,0.042],[11717,0.070]
];
const radiusOutliers = [
  [4295,0.71],[6950,0.445],[6600,0.37],[9350,0.39],[2250,0.252],[6000,0.263],[8180,0.239],[8500,0.219],[8660,0.219],
  [8790,0.228],[8770,0.204],[5727,0.172],[3109,0.157],[9060,0.168],[8910,0.159],[9830,0.164],[10183,0.165],[10042,0.155],
  [10362,0.156],[11144,0.150],[11356,0.147],[10929,0.141],[11700,0.200]
];

// tick values
const fwhmTicks = [0.5, 1.0, 1.5, 2.0];
const posTicks = [-5000, 0, 5000];
const ellipTicks = [0, 0.1, 0.2, 0.3, 0.4, 0.5, 0.6];
const radiusTicks = [0, 2000, 4000, 6000, 8000, 10000];

const FONT = "Roboto, 'Liberation Sans', Arial, sans-serif";
const INK = '#111';
const FRAME = '#555';
const TXT = 23.5;

function toXY(list) {
  return list.map(p => ({ x: p[0], y: p[1] }));
}

function posLabel(v) {
  if (v < 0) return '\u2212' + Math.abs(v);
  return String(v);
}

function radiusLabel(v) {
  if (v >= 10000) return Math.floor(v / 1000) + '\u2009' + String(v % 1000).padStart(3, '0');
  return String(v);
}

// frame, inward ticks, title and axis titles
const decor = {
  id: 'decor',
  afterDraw(chart, args, o) {
    const { ctx, chartArea: a } = chart;
    const sx = chart.scales.x, sy = chart.scales.y;
    ctx.save();
    ctx.strokeStyle = FRAME;
    ctx.lineWidth = 1.4;
    ctx.strokeRect(a.left, a.top, a.right - a.left, a.bottom - a.top);
    ctx.beginPath();
    const xt = o.xMarks || sx.ticks.map(t => t.value);
    xt.forEach(v => {
      const p = sx.getPixelForValue(v);
      ctx.moveTo(p, a.bottom); ctx.lineTo(p, a.bottom - 10);
      ctx.moveTo(p, a.top); ctx.lineTo(p, a.top + 10);
    });
    sy.ticks.forEach(t => {
      const p = sy.getPixelForValue(t.value);
      ctx.moveTo(a.left, p); ctx.lineTo(a.left + 10, p);
      ctx.moveTo(a.right, p); ctx.lineTo(a.right - 10, p);
    });
    ctx.stroke();

    ctx.fillStyle = INK;
    ctx.textBaseline = 'alphabetic';
    // title with italic pieces
    const parts = o.title;
    const fontOf = it => (it ? 'italic ' : '') + '300 ' + TXT + 'px ' + FONT;
    let total = 0;
    parts.forEach(p => { ctx.font = fontOf(p[1]); total += ctx.measureText(p[0]).width; });
    let tx = (a.left + a.right) / 2 - total / 2;
    ctx.textAlign = 'left';
    parts.forEach(p => {
      ctx.font = fontOf(p[1]);
      ctx.fillText(p[0], tx, o.titleY);
      tx += ctx.measureText(p[0]).width;
    });

    ctx.font = '300 ' + TXT + 'px ' + FONT;
    ctx.textAlign = 'center';
    ctx.fillText(o.xTitle, (a.left + a.right) / 2, o.xTitleY);

    ctx.translate(o.yTitleX, o.yTitleMid);
    ctx.rotate(-Math.PI / 2);
    ctx.fillText(o.yTitle, 0, 0);
    ctx.restore();
  }
};

function makeChart(id, cfg) {
  const tickFont = { family: FONT, size: TXT, weight: '300' };
  const xTickFont = { family: FONT, size: cfg.xTickSize || TXT, weight: '300' };
  return new Chart(document.getElementById(id), {
    type: 'scatter',
    data: { datasets: cfg.datasets },
    options: {
      responsive: false,
      animation: false,
      devicePixelRatio: 1,
      events: [],
      layout: { padding: { left: 0, right: cfg.padRight, top: 38, bottom: 0 } },
      plugins: {
        legend: { display: false },
        tooltip: { enabled: false },
        title: { display: false },
        decor: cfg.decor
      },
      scales: {
        x: {
          type: 'linear',
          min: cfg.xMin, max: cfg.xMax,
          grid: { display: false, drawTicks: false },
          border: { display: false },
          afterBuildTicks: s => { s.ticks = cfg.xTicks.map(v => ({ value: v })); },
          afterFit: s => { s.height = cfg.xHeight; },
          ticks: { font: xTickFont, color: INK, padding: 11, maxRotation: 0, autoSkip: false, callback: cfg.xFmt }
        },
        y: {
          type: 'linear',
          min: cfg.yMin, max: cfg.yMax,
          grid: { display: false, drawTicks: false },
          border: { display: false },
          afterBuildTicks: s => { s.ticks = cfg.yTicks.map(v => ({ value: v })); },
          afterFit: s => { s.width = cfg.yWidth; },
          ticks: { font: tickFont, color: INK, padding: 10, autoSkip: false, callback: v => Number(v).toFixed(1) }
        }
      }
    },
    plugins: [decor]
  });
}

const dot = { pointRadius: 1.4, pointBackgroundColor: '#000', pointBorderWidth: 0, showLine: false };

makeChart('c1', {
  datasets: [
    Object.assign({ data: toXY(xposBand) }, dot),
    Object.assign({ data: toXY(xposBand2) }, dot),
    Object.assign({ data: toXY(xposOutliers) }, dot)
  ],
  xMin: -8500, xMax: 8500, yMin: 0.2, yMax: 2.1,
  xTicks: posTicks, yTicks: fwhmTicks, xFmt: posLabel,
  padRight: 17, yWidth: 82, xHeight: 66,
  decor: {
    title: [['FWHM ', false], ['vs.', true], [' ', false], ['x', true], ['\u2013position', false]],
    titleY: 28,
    xTitle: 'Xpos\u2212CRPIX1 (pixel)', xTitleY: 484,
    yTitle: 'FWHM_IMAGE (arcsec)', yTitleX: 31, yTitleMid: 226
  }
});

makeChart('c2', {
  datasets: [
    Object.assign({ data: toXY(yposBand) }, dot),
    Object.assign({ data: toXY(yposBand2) }, dot),
    Object.assign({ data: toXY(yposOutliers) }, dot)
  ],
  xMin: -8500, xMax: 8500, yMin: 0.2, yMax: 2.1,
  xTicks: posTicks, yTicks: fwhmTicks, xFmt: posLabel,
  padRight: 11, yWidth: 88, xHeight: 66,
  decor: {
    title: [['FWHM ', false], ['vs.', true], [' ', false], ['y', true], ['\u2013position', false]],
    titleY: 28,
    xTitle: 'Ypos\u2212CRPIX2 (pixel)', xTitleY: 484,
    yTitle: 'FWHM_IMAGE (arcsec)', yTitleX: 37, yTitleMid: 227
  }
});

makeChart('c3', {
  datasets: [
    Object.assign({ data: toXY(radiusPoints) }, dot),
    Object.assign({ data: toXY(radiusPoints2) }, dot),
    Object.assign({ data: toXY(radiusOutliers), clip: false }, dot)
  ],
  xMin: 0, xMax: 12000, yMin: 0, yMax: 0.7,
  xTicks: radiusTicks, yTicks: ellipTicks, xFmt: radiusLabel, xTickSize: 22,
  padRight: 12, yWidth: 94, xHeight: 62,
  decor: {
    title: [['Radius ', false], ['vs.', true], [' Ellipticity', false]],
    titleY: 28,
    xTitle: 'Distance from optical axis (pixel)', xTitleY: 487,
    yTitle: 'Ellipticity', yTitleX: 39, yTitleMid: 232,
    xMarks: [2000, 4000, 6000, 8000, 10000, 12000]
  }
});
</script>
</body>
</html>
